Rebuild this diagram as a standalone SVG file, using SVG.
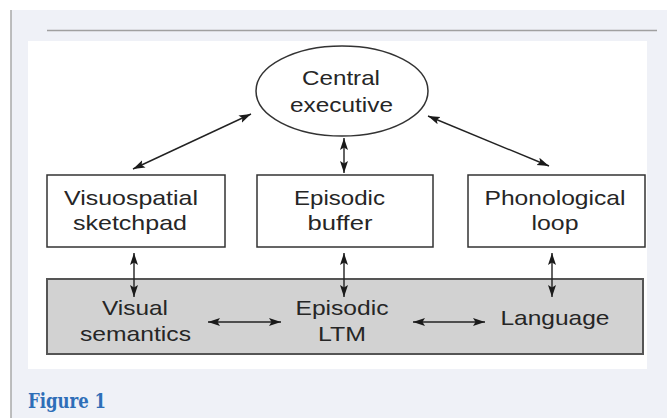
<svg xmlns="http://www.w3.org/2000/svg" width="667" height="418" viewBox="0 0 667 418">
<style>
.t{font-family:"Liberation Sans",Arial,sans-serif;font-size:21px;fill:#262626;text-anchor:middle}
.box{fill:#fff;stroke:#333;stroke-width:1.5}
.c{stroke:#222;stroke-width:1.4;fill:none;marker-start:url(#ah);marker-end:url(#ah)}
</style>
<defs>
<marker id="ah" markerUnits="userSpaceOnUse" markerWidth="13" markerHeight="10" refX="12" refY="4.5" orient="auto-start-reverse">
<path d="M0,0.5 L12,4.5 L0,8.5 L2.5,4.5 z" fill="#1a1a1a"/>
</marker>
</defs>
<rect x="0" y="0" width="667" height="418" fill="#fff"/>
<rect x="11" y="10" width="656" height="408" fill="#eff1f7"/>
<line x1="11" y1="10" x2="11" y2="418" stroke="#a8a8a8" stroke-width="1.5"/>
<line x1="47" y1="30.5" x2="657" y2="30.5" stroke="#a0a0a0" stroke-width="1.5"/>
<rect x="28" y="41" width="619" height="328" fill="#fff"/>

<g id="central-executive">
<ellipse cx="342" cy="91" rx="86" ry="45" fill="#fff" stroke="#333" stroke-width="1.5"/>
<text class="t" x="341" y="85" textLength="78" lengthAdjust="spacingAndGlyphs">Central</text>
<text class="t" x="341.5" y="112" textLength="103" lengthAdjust="spacingAndGlyphs">executive</text>
</g>
<g id="visuospatial-sketchpad">
<rect class="box" x="47" y="175" width="178" height="72"/>
<text class="t" x="131" y="205" textLength="134" lengthAdjust="spacingAndGlyphs">Visuospatial</text>
<text class="t" x="130" y="230" textLength="114" lengthAdjust="spacingAndGlyphs">sketchpad</text>
</g>
<g id="episodic-buffer">
<rect class="box" x="257" y="175" width="176" height="72"/>
<text class="t" x="339.5" y="205" textLength="91" lengthAdjust="spacingAndGlyphs">Episodic</text>
<text class="t" x="340" y="230" textLength="65" lengthAdjust="spacingAndGlyphs">buffer</text>
</g>
<g id="phonological-loop">
<rect class="box" x="468" y="175" width="177" height="72"/>
<text class="t" x="555" y="205" textLength="141" lengthAdjust="spacingAndGlyphs">Phonological</text>
<text class="t" x="555" y="230" textLength="47" lengthAdjust="spacingAndGlyphs">loop</text>
</g>
<g id="ltm">
<rect x="47" y="279" width="596" height="75" fill="#d2d2d2" stroke="#555" stroke-width="2"/>
<text class="t" x="135" y="315" textLength="66" lengthAdjust="spacingAndGlyphs">Visual</text>
<text class="t" x="135.5" y="341" textLength="111" lengthAdjust="spacingAndGlyphs">semantics</text>
<text class="t" x="342" y="315" textLength="93" lengthAdjust="spacingAndGlyphs">Episodic</text>
<text class="t" x="342" y="341" textLength="48" lengthAdjust="spacingAndGlyphs">LTM</text>
<text class="t" x="555" y="325" textLength="109" lengthAdjust="spacingAndGlyphs">Language</text>
</g>
<g id="connectors">
<line class="c" x1="251" y1="114" x2="133" y2="169"/>
<line class="c" x1="428" y1="116" x2="549" y2="166"/>
<line class="c" x1="344" y1="138" x2="344" y2="173"/>
<line class="c" x1="134" y1="253" x2="134" y2="297"/>
<line class="c" x1="344" y1="253" x2="344" y2="297"/>
<line class="c" x1="552" y1="253" x2="552" y2="297"/>
<line class="c" x1="208" y1="322" x2="281" y2="322"/>
<line class="c" x1="413" y1="322" x2="485" y2="322"/>
</g>
<text x="28" y="408" font-family="'DejaVu Serif Condensed','DejaVu Serif','Liberation Serif',serif" font-weight="bold" font-size="20" fill="#2e6eb8" textLength="78" lengthAdjust="spacingAndGlyphs">Figure 1</text>
</svg>
